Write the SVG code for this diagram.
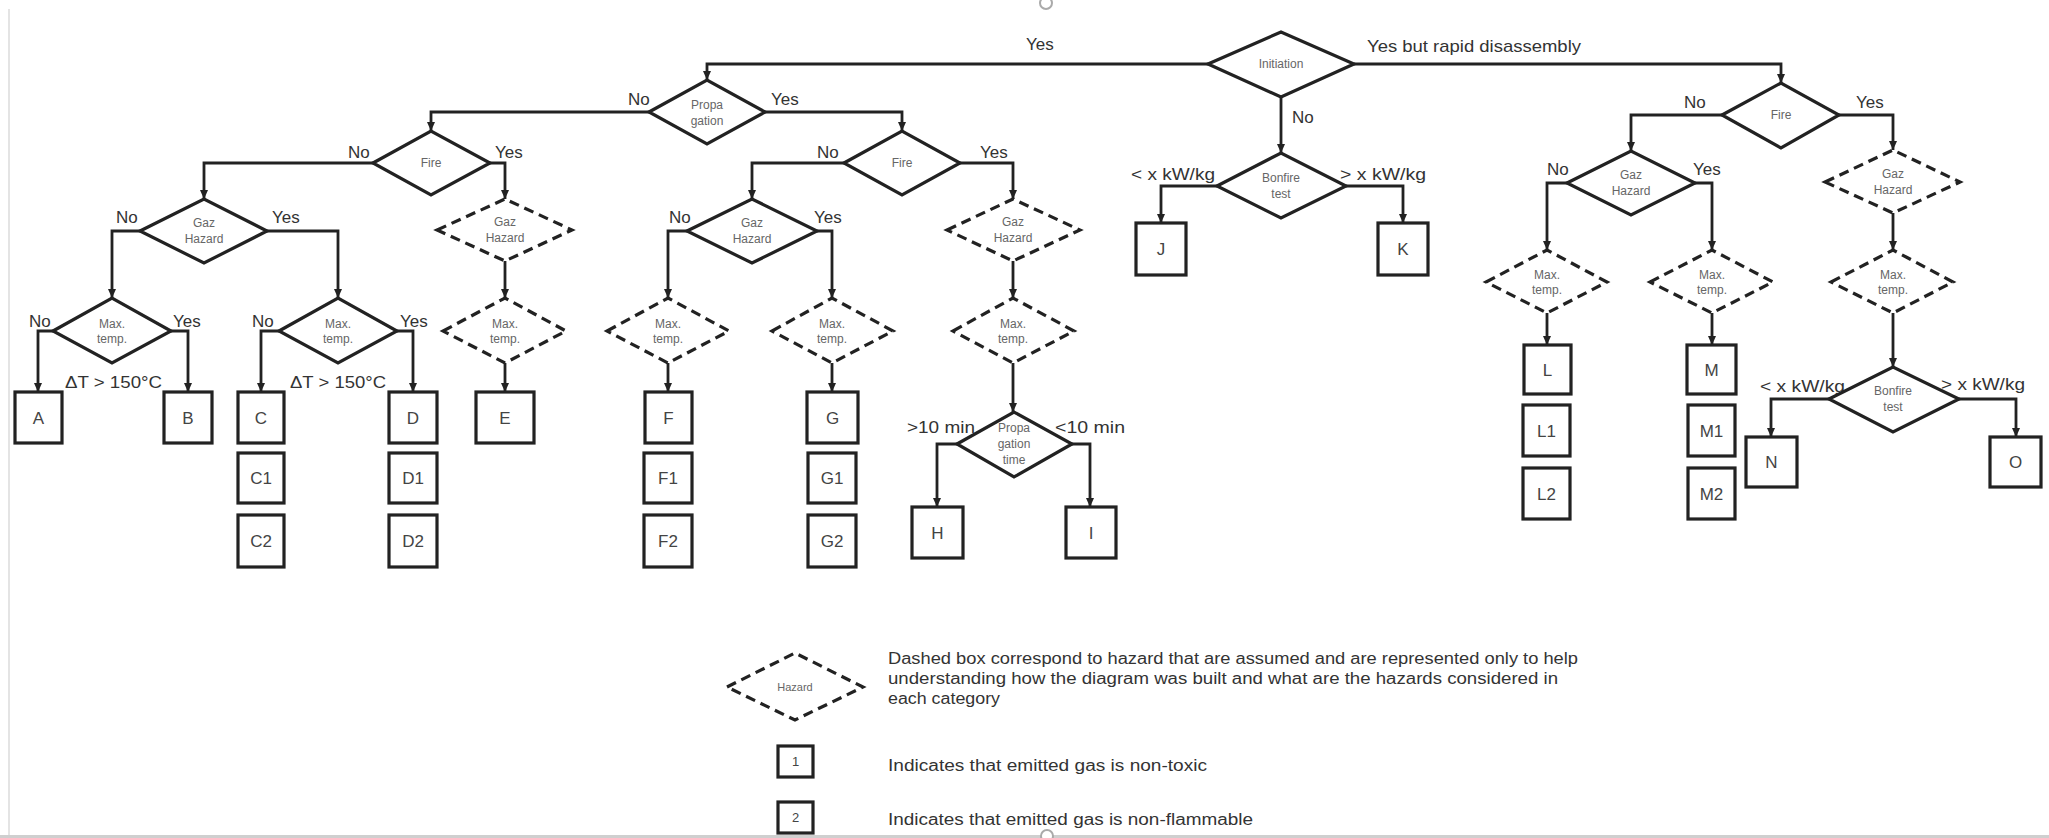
<svg xmlns="http://www.w3.org/2000/svg" width="2049" height="838" viewBox="0 0 2049 838">
<style>
.conn{fill:none;stroke:#222;stroke-width:2.8;marker-end:url(#arr)}
.dia{fill:#fff;stroke:#222;stroke-width:3.2;stroke-linejoin:miter}
.dash{stroke-dasharray:10 6}
.box{fill:#fff;stroke:#222;stroke-width:3.2}
text{font-family:"Liberation Sans",Arial,sans-serif}
.lbl{font-size:17px;fill:#333}
.in{font-size:12px;fill:#666;text-anchor:middle}
.bt{font-size:17px;fill:#444;text-anchor:middle}
.leg{font-size:16px;fill:#333}
.lb{font-size:13px;fill:#444;text-anchor:middle}
</style>
<defs>
<marker id="arr" markerWidth="9" markerHeight="8" refX="9" refY="4" orient="auto" markerUnits="userSpaceOnUse">
<path d="M0,0 L9,4 L0,8 z" fill="#222"/>
</marker>
</defs>
<rect x="0" y="0" width="2049" height="838" fill="#fff"/>
<g id="frame">
<line x1="9" y1="9" x2="9" y2="838" stroke="#e4e4e4" stroke-width="2"/>
<rect x="0" y="835" width="2049" height="3" fill="#cfcfcf"/>
<circle cx="1046" cy="3" r="6" fill="none" stroke="#aaa" stroke-width="2"/>
<circle cx="1047" cy="836" r="6" fill="#fff" stroke="#aaa" stroke-width="2"/>
</g>
<g id="connectors">
<polyline class="conn" points="1208,64 707,64 707,80"/>
<polyline class="conn" points="1354,64 1781,64 1781,83"/>
<polyline class="conn" points="1281,97 1281,153"/>
<polyline class="conn" points="649,112 431,112 431,131"/>
<polyline class="conn" points="765,112 902,112 902,131"/>
<polyline class="conn" points="373,163 204,163 204,199"/>
<polyline class="conn" points="490,163 505,163 505,199"/>
<polyline class="conn" points="140,231 112,231 112,298"/>
<polyline class="conn" points="267,231 338,231 338,298"/>
<polyline class="conn" points="505,261 505,298"/>
<polyline class="conn" points="53,331 38,331 38,392"/>
<polyline class="conn" points="171,331 188,331 188,392"/>
<polyline class="conn" points="279,331 261,331 261,392"/>
<polyline class="conn" points="397,331 413,331 413,392"/>
<polyline class="conn" points="505,363 505,392"/>
<polyline class="conn" points="844,163 752,163 752,199"/>
<polyline class="conn" points="960,163 1013,163 1013,199"/>
<polyline class="conn" points="687,231 668,231 668,298"/>
<polyline class="conn" points="817,231 832,231 832,298"/>
<polyline class="conn" points="668,363 668,392"/>
<polyline class="conn" points="832,363 832,392"/>
<polyline class="conn" points="1013,261 1013,298"/>
<polyline class="conn" points="1013,363 1013,412"/>
<polyline class="conn" points="957,444 937,444 937,507"/>
<polyline class="conn" points="1072,444 1090,444 1090,507"/>
<polyline class="conn" points="1217,186 1161,186 1161,223"/>
<polyline class="conn" points="1346,186 1403,186 1403,223"/>
<polyline class="conn" points="1722,115 1631,115 1631,151"/>
<polyline class="conn" points="1839,115 1893,115 1893,150"/>
<polyline class="conn" points="1567,183 1547,183 1547,250"/>
<polyline class="conn" points="1695,183 1712,183 1712,250"/>
<polyline class="conn" points="1893,213 1893,250"/>
<polyline class="conn" points="1547,313 1547,345"/>
<polyline class="conn" points="1712,313 1712,345"/>
<polyline class="conn" points="1893,313 1893,367"/>
<polyline class="conn" points="1829,399 1771,399 1771,437"/>
<polyline class="conn" points="1959,399 2016,399 2016,437"/>
</g>
<g id="labels">
<text class="lbl" x="1026" y="50">Yes</text>
<text class="lbl" x="1367" y="52" textLength="214" lengthAdjust="spacingAndGlyphs">Yes but rapid disassembly</text>
<text class="lbl" x="1292" y="123">No</text>
<text class="lbl" x="628" y="105">No</text>
<text class="lbl" x="771" y="105">Yes</text>
<text class="lbl" x="348" y="158">No</text>
<text class="lbl" x="495" y="158">Yes</text>
<text class="lbl" x="817" y="158">No</text>
<text class="lbl" x="980" y="158">Yes</text>
<text class="lbl" x="116" y="223">No</text>
<text class="lbl" x="272" y="223">Yes</text>
<text class="lbl" x="669" y="223">No</text>
<text class="lbl" x="814" y="223">Yes</text>
<text class="lbl" x="1131" y="180" textLength="84" lengthAdjust="spacingAndGlyphs">&lt; x kW/kg</text>
<text class="lbl" x="1340" y="180" textLength="86" lengthAdjust="spacingAndGlyphs">&gt; x kW/kg</text>
<text class="lbl" x="1684" y="108">No</text>
<text class="lbl" x="1856" y="108">Yes</text>
<text class="lbl" x="1547" y="175">No</text>
<text class="lbl" x="1693" y="175">Yes</text>
<text class="lbl" x="29" y="327">No</text>
<text class="lbl" x="173" y="327">Yes</text>
<text class="lbl" x="252" y="327">No</text>
<text class="lbl" x="400" y="327">Yes</text>
<text class="lbl" x="65" y="388" textLength="97" lengthAdjust="spacingAndGlyphs">ΔT &gt; 150°C</text>
<text class="lbl" x="290" y="388" textLength="96" lengthAdjust="spacingAndGlyphs">ΔT &gt; 150°C</text>
<text class="lbl" x="907" y="433" textLength="68" lengthAdjust="spacingAndGlyphs">&gt;10 min</text>
<text class="lbl" x="1055" y="433" textLength="70" lengthAdjust="spacingAndGlyphs">&lt;10 min</text>
<text class="lbl" x="1760" y="392" textLength="85" lengthAdjust="spacingAndGlyphs">&lt; x kW/kg</text>
<text class="lbl" x="1941" y="390" textLength="84" lengthAdjust="spacingAndGlyphs">&gt; x kW/kg</text>
</g>
<g id="n-initiation"><polygon class="dia" points="1208,64 1281,32 1354,64 1281,97"/><text class="in" x="1281" y="68">Initiation</text></g>
<g id="n-propagation"><polygon class="dia" points="649,112 707,80 765,112 707,144"/><text class="in" x="707" y="109">Propa</text><text class="in" x="707" y="125">gation</text></g>
<g id="n-fire-l"><polygon class="dia" points="373,163 431,131 490,163 431,195"/><text class="in" x="431" y="167">Fire</text></g>
<g id="n-fire-m"><polygon class="dia" points="844,163 902,131 960,163 902,195"/><text class="in" x="902" y="167">Fire</text></g>
<g id="n-fire-r"><polygon class="dia" points="1722,115 1781,83 1839,115 1781,148"/><text class="in" x="1781" y="119">Fire</text></g>
<g id="n-gaz-l"><polygon class="dia" points="140,231 204,199 267,231 204,263"/><text class="in" x="204" y="227">Gaz</text><text class="in" x="204" y="243">Hazard</text></g>
<g id="n-gaz-m"><polygon class="dia" points="687,231 752,199 817,231 752,263"/><text class="in" x="752" y="227">Gaz</text><text class="in" x="752" y="243">Hazard</text></g>
<g id="n-gaz-r"><polygon class="dia" points="1567,183 1631,151 1695,183 1631,215"/><text class="in" x="1631" y="179">Gaz</text><text class="in" x="1631" y="195">Hazard</text></g>
<g id="n-gazd-l"><polygon class="dia dash" points="437,230 505,199 572,230 505,261"/><text class="in" x="505" y="226">Gaz</text><text class="in" x="505" y="242">Hazard</text></g>
<g id="n-gazd-m"><polygon class="dia dash" points="947,230 1013,199 1080,230 1013,261"/><text class="in" x="1013" y="226">Gaz</text><text class="in" x="1013" y="242">Hazard</text></g>
<g id="n-gazd-r"><polygon class="dia dash" points="1825,182 1893,150 1960,182 1893,213"/><text class="in" x="1893" y="178">Gaz</text><text class="in" x="1893" y="194">Hazard</text></g>
<g id="n-max1"><polygon class="dia" points="53,331 112,298 171,331 112,363"/><text class="in" x="112" y="328">Max.</text><text class="in" x="112" y="343">temp.</text></g>
<g id="n-max2"><polygon class="dia" points="279,331 338,298 397,331 338,363"/><text class="in" x="338" y="328">Max.</text><text class="in" x="338" y="343">temp.</text></g>
<g id="n-maxd-e"><polygon class="dia dash" points="443,331 505,298 566,331 505,363"/><text class="in" x="505" y="328">Max.</text><text class="in" x="505" y="343">temp.</text></g>
<g id="n-maxd-f"><polygon class="dia dash" points="607,331 668,298 729,331 668,363"/><text class="in" x="668" y="328">Max.</text><text class="in" x="668" y="343">temp.</text></g>
<g id="n-maxd-g"><polygon class="dia dash" points="772,331 832,298 893,331 832,363"/><text class="in" x="832" y="328">Max.</text><text class="in" x="832" y="343">temp.</text></g>
<g id="n-maxd-hi"><polygon class="dia dash" points="953,331 1013,298 1074,331 1013,363"/><text class="in" x="1013" y="328">Max.</text><text class="in" x="1013" y="343">temp.</text></g>
<g id="n-maxd-l"><polygon class="dia dash" points="1486,282 1547,250 1607,282 1547,313"/><text class="in" x="1547" y="279">Max.</text><text class="in" x="1547" y="294">temp.</text></g>
<g id="n-maxd-m"><polygon class="dia dash" points="1650,282 1712,250 1773,282 1712,313"/><text class="in" x="1712" y="279">Max.</text><text class="in" x="1712" y="294">temp.</text></g>
<g id="n-maxd-r"><polygon class="dia dash" points="1831,282 1893,250 1953,282 1893,313"/><text class="in" x="1893" y="279">Max.</text><text class="in" x="1893" y="294">temp.</text></g>
<g id="n-bonfire-m"><polygon class="dia" points="1217,186 1281,153 1346,186 1281,218"/><text class="in" x="1281" y="182">Bonfire</text><text class="in" x="1281" y="198">test</text></g>
<g id="n-bonfire-r"><polygon class="dia" points="1829,399 1893,367 1959,399 1893,432"/><text class="in" x="1893" y="395">Bonfire</text><text class="in" x="1893" y="411">test</text></g>
<g id="n-proptime"><polygon class="dia" points="957,444 1014,412 1072,444 1014,477"/><text class="in" x="1014" y="432">Propa</text><text class="in" x="1014" y="448">gation</text><text class="in" x="1014" y="464">time</text></g>
<g id="n-A"><rect class="box" x="15" y="392" width="47" height="51"/><text class="bt" x="38.5" y="424">A</text></g>
<g id="n-B"><rect class="box" x="164" y="392" width="48" height="51"/><text class="bt" x="188" y="424">B</text></g>
<g id="n-C"><rect class="box" x="238" y="392" width="46" height="51"/><text class="bt" x="261" y="424">C</text></g>
<g id="n-C1"><rect class="box" x="238" y="453" width="46" height="50"/><text class="bt" x="261" y="484">C1</text></g>
<g id="n-C2"><rect class="box" x="238" y="515" width="46" height="52"/><text class="bt" x="261" y="547">C2</text></g>
<g id="n-D"><rect class="box" x="389" y="392" width="48" height="51"/><text class="bt" x="413" y="424">D</text></g>
<g id="n-D1"><rect class="box" x="389" y="453" width="48" height="50"/><text class="bt" x="413" y="484">D1</text></g>
<g id="n-D2"><rect class="box" x="389" y="515" width="48" height="52"/><text class="bt" x="413" y="547">D2</text></g>
<g id="n-E"><rect class="box" x="476" y="392" width="58" height="51"/><text class="bt" x="505" y="424">E</text></g>
<g id="n-F"><rect class="box" x="645" y="392" width="47" height="51"/><text class="bt" x="668.5" y="424">F</text></g>
<g id="n-F1"><rect class="box" x="644" y="453" width="48" height="50"/><text class="bt" x="668" y="484">F1</text></g>
<g id="n-F2"><rect class="box" x="644" y="515" width="48" height="52"/><text class="bt" x="668" y="547">F2</text></g>
<g id="n-G"><rect class="box" x="807" y="392" width="51" height="51"/><text class="bt" x="832.5" y="424">G</text></g>
<g id="n-G1"><rect class="box" x="808" y="453" width="48" height="50"/><text class="bt" x="832" y="484">G1</text></g>
<g id="n-G2"><rect class="box" x="808" y="515" width="48" height="52"/><text class="bt" x="832" y="547">G2</text></g>
<g id="n-H"><rect class="box" x="912" y="507" width="51" height="51"/><text class="bt" x="937.5" y="539">H</text></g>
<g id="n-I"><rect class="box" x="1066" y="507" width="50" height="51"/><text class="bt" x="1091" y="539">I</text></g>
<g id="n-J"><rect class="box" x="1136" y="223" width="50" height="52"/><text class="bt" x="1161" y="255">J</text></g>
<g id="n-K"><rect class="box" x="1378" y="223" width="50" height="52"/><text class="bt" x="1403" y="255">K</text></g>
<g id="n-L"><rect class="box" x="1524" y="345" width="47" height="49"/><text class="bt" x="1547.5" y="376">L</text></g>
<g id="n-L1"><rect class="box" x="1523" y="405" width="47" height="51"/><text class="bt" x="1546.5" y="437">L1</text></g>
<g id="n-L2"><rect class="box" x="1523" y="468" width="47" height="51"/><text class="bt" x="1546.5" y="500">L2</text></g>
<g id="n-M"><rect class="box" x="1687" y="345" width="49" height="49"/><text class="bt" x="1711.5" y="376">M</text></g>
<g id="n-M1"><rect class="box" x="1688" y="405" width="47" height="51"/><text class="bt" x="1711.5" y="437">M1</text></g>
<g id="n-M2"><rect class="box" x="1688" y="468" width="47" height="51"/><text class="bt" x="1711.5" y="500">M2</text></g>
<g id="n-N"><rect class="box" x="1746" y="437" width="51" height="50"/><text class="bt" x="1771.5" y="468">N</text></g>
<g id="n-O"><rect class="box" x="1990" y="437" width="51" height="50"/><text class="bt" x="2015.5" y="468">O</text></g>
<g id="legend">
<polygon class="dia dash" points="727,687 795,653 863,687 795,720"/>
<text class="in" x="795" y="691" style="font-size:11px">Hazard</text>
<text class="leg" x="888" y="664" textLength="690" lengthAdjust="spacingAndGlyphs">Dashed box correspond to hazard that are assumed and are represented only to help</text>
<text class="leg" x="888" y="684" textLength="670" lengthAdjust="spacingAndGlyphs">understanding how the diagram was built and what are the hazards considered in</text>
<text class="leg" x="888" y="704" textLength="112" lengthAdjust="spacingAndGlyphs">each category</text>
<rect class="box" x="778" y="746" width="35" height="31"/>
<text class="lb" x="795.5" y="766">1</text>
<text class="leg" x="888" y="771" textLength="319" lengthAdjust="spacingAndGlyphs">Indicates that emitted gas is non-toxic</text>
<rect class="box" x="778" y="802" width="35" height="31"/>
<text class="lb" x="795.5" y="822">2</text>
<text class="leg" x="888" y="825" textLength="365" lengthAdjust="spacingAndGlyphs">Indicates that emitted gas is non-flammable</text>
</g>
</svg>
